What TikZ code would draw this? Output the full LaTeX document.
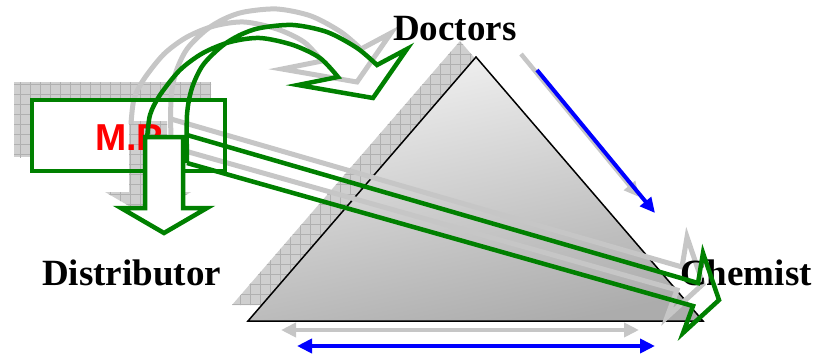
\documentclass[tikz,border=0pt]{standalone}
\usepackage{fontspec}
\setmainfont{Liberation Serif}
\newfontfamily\mrsans{Liberation Sans}
\usetikzlibrary{arrows.meta,patterns.meta}
\definecolor{pgreen}{RGB}{0,128,0}
\definecolor{pblue}{RGB}{0,0,255}
\definecolor{pred}{RGB}{255,0,0}
\newcommand\mrcurve{plot[smooth] coordinates {(147,140) (150,115) (160,95) (180,70) (203,53) (230,42) (260,38) (293,45) (320,58) (338,77)} -- (298,85) -- (373,98) -- (407,49) -- (377,65) -- plot[smooth] coordinates {(377,65) (357,48) (327,32) (293,25) (260,28) (240,35) (222,46) (203,65) (192,88) (187,115) (187,163)}}
\newcommand\chempath{(187,135) -- (698,283) -- (703,253) -- (719,300) -- (683,333) -- (693,306) -- (187,163)}
\newcommand\downpath{(145,137) -- (183,137) -- (183,208) -- (207,208) -- (164,233) -- (121,208) -- (145,208) -- cycle}
\newcommand\tripath{(476,57) -- (703,321) -- (248,321) -- cycle}
\begin{document}
\begin{tikzpicture}[x=1pt,y=-1pt,
  hatchfill/.style={fill=gray!38, postaction={pattern={Hatch[angle=0,distance=10pt,line width=0.6pt]}, pattern color=gray!62}},
  shad/.style={draw=gray!45, line width=5pt, line join=miter},
  gline/.style={draw=pgreen, line width=4.5pt, line join=miter},
  bline/.style={draw=pblue, line width=4pt},
  sline/.style={draw=gray!45, line width=4.5pt},
  lbl/.style={inner sep=0pt, anchor=base west, font=\fontsize{37}{40}\selectfont\bfseries},
  onehead/.style={-{Triangle[length=15pt,width=14pt]}},
  twoheads/.style={{Triangle[length=15pt,width=14pt]}-{Triangle[length=15pt,width=14pt]}},
  sh/.style={xshift=-16pt,yshift=16pt}
]
\useasboundingbox (0,0) rectangle (814,354);
% coordinates for blue arrows
\coordinate (ra) at (537,70);
\coordinate (rb) at (655,213);
\coordinate (ba) at (297,346);
\coordinate (bb) at (655,346);
% shadows of filled shapes
\begin{scope}[shift={(-16,-16)}]
  \path[hatchfill] \tripath;
  \path[hatchfill] (30,98) rectangle (227,173);
\end{scope}
% triangle
\shade[top color=gray!10, bottom color=gray!65, shading angle=12] \tripath;
\draw[black, line width=1.5pt, line join=miter] \tripath;
% box fill
\fill[white] (32,100) rectangle (225,171);
% stroked shadows
\begin{scope}[shift={(-16,-16)}]
  \path[hatchfill] \downpath;
  \draw[shad] \mrcurve;
  \draw[shad] \chempath;
\end{scope}
\draw[sline, onehead] ([sh]ra) -- ([sh]rb);
\draw[sline, twoheads] ([sh]ba) -- ([sh]bb);
% texts
\node[inner sep=0pt, anchor=base west, text=pred, font=\mrsans\fontsize{37.5}{40}\selectfont\bfseries] (mr) at (95,150) {M.R};
\node[lbl] (doc) at (393,40) {Doctors};
\node[lbl] (dist) at (42,285) {Distributor};
\node[lbl] (chem) at (680,285) {Chemist};
% box outline
\draw[gline] (32,100) rectangle (225,171);
% green arrows
\draw[gline] \mrcurve;
\draw[gline] \chempath;
\draw[gline, fill=white] \downpath;
% blue arrows
\draw[bline, onehead] (ra) -- (rb);
\draw[bline, twoheads] (ba) -- (bb);
\end{tikzpicture}
\end{document}
